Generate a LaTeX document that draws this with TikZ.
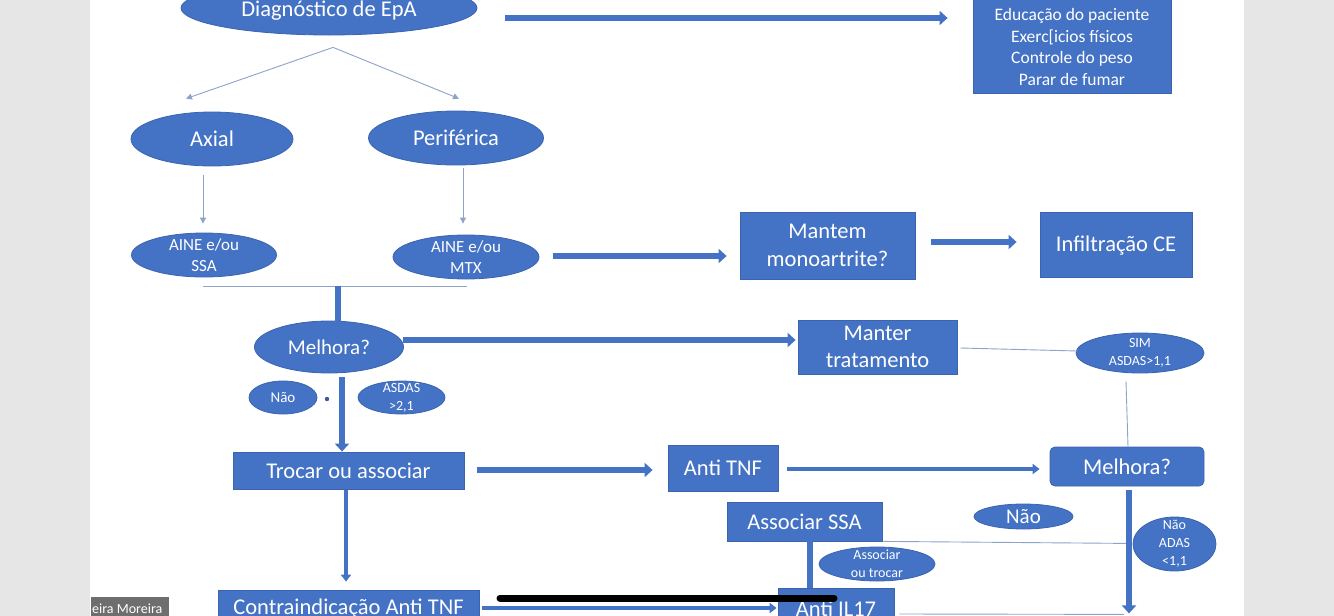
\documentclass[tikz,border=0pt]{standalone}
\usepackage{fontspec}
\setmainfont{Carlito}
\usetikzlibrary{shapes.geometric,arrows.meta,calc}
\definecolor{epblue}{HTML}{4472C4}
\definecolor{epedge}{HTML}{3A64B0}
\definecolor{thinc}{HTML}{8EA3C8}
\definecolor{margin}{HTML}{E6E6E6}
\definecolor{tagc}{HTML}{6E6E6E}
\begin{document}
\begin{tikzpicture}[x=1pt,y=-1pt,
  oval/.style={ellipse, fill=epblue, draw=epedge, line width=0.8pt, inner sep=0pt, text=white, align=center},
  blk/.style={rectangle, fill=epblue, draw=epedge, line width=0.8pt, inner sep=0pt, text=white, align=center},
  lbl/.style={inner sep=0pt, text=white, align=center},
  big/.style={font=\fontsize{22.5}{27.5}\selectfont},
  mid/.style={font=\fontsize{17}{21}\selectfont},
  sml/.style={font=\fontsize{14}{18}\selectfont},
  thinl/.style={draw=thinc, line width=0.9pt},
  thinarr/.style={thinl, -{Triangle[width=6pt,length=6pt]}},
  fatl/.style={draw=epblue, line width=6.5pt},
  fatarr/.style={fatl, -{Triangle[width=14pt,length=8pt]}},
  medarr/.style={draw=epblue, line width=4.5pt, -{Triangle[width=10pt,length=7pt]}},
]
\useasboundingbox (0,0) rectangle (1334,616);
\fill[white] (0,0) rectangle (1334,616);
\fill[margin] (0,0) rectangle (90,616);
\fill[margin] (1244,0) rectangle (1334,616);

% nodes
\node[oval, minimum width=296, minimum height=54] (diag) at (329,8) {};
\node[lbl, big] (diagT) at (329,10.5) {Diagnóstico de EpA};
\node[blk, minimum width=198, minimum height=123] (rbox) at (1072,31.5) {};
\node[lbl, font=\fontsize{17.5}{21.5}\selectfont] (rboxT) at (1072,47) {Educação do paciente\\Exerc[icios físicos\\Controle do peso\\Parar de fumar};

\node[oval, big, minimum width=162, minimum height=54] (axial) at (212,139) {Axial};
\node[oval, big, minimum width=175, minimum height=54] (peri) at (456,138) {Periférica};

\node[oval, minimum width=145, minimum height=44] (ssa1) at (204,255) {};
\node[lbl, mid] (ssa1T) at (ssa1) {AINE e/ou\\SSA};
\node[oval, minimum width=146, minimum height=44] (mtx) at (466,257) {};
\node[lbl, mid] (mtxT) at (mtx) {AINE e/ou\\MTX};

\node[blk, big, minimum width=175, minimum height=67] (mant) at (827.5,245.5) {Mantem\\monoartrite?};
\node[blk, big, minimum width=152, minimum height=65] (infl) at (1116,244.5) {};
\node[lbl, big] (inflT) at (1116,246) {Infiltração CE};

\node[oval, font=\fontsize{21}{25}\selectfont, minimum width=149, minimum height=52] (m1) at (329,347) {Melhora?};
\node[blk, big, minimum width=159, minimum height=54] (mt) at (877.5,347) {Manter\\tratamento};
\node[oval, minimum width=128, minimum height=40] (sim) at (1140,353) {};
\node[lbl, sml] (simT) at (sim) {SIM\\ASDAS>1,1};

\node[oval, font=\fontsize{15}{18}\selectfont, minimum width=68, minimum height=33] (nao1) at (283,397.5) {Não};
\fill[epblue!80!black] (327,399) circle (2.2);
\node[oval, minimum width=87, minimum height=33] (asd) at (401.5,397.5) {};
\node[lbl, sml] (asdT) at (asd) {ASDAS\\>2,1};

\node[blk, big, minimum width=231, minimum height=37] (troc) at (348.5,470.5) {Trocar ou associar};
\node[blk, big, minimum width=110, minimum height=46] (atnf) at (723,468) {Anti TNF};
\node[blk, big, rounded corners=5pt, minimum width=154, minimum height=39] (m2) at (1127,466.5) {Melhora?};

\node[blk, big, minimum width=155, minimum height=39] (ssa) at (804.5,521.5) {Associar SSA};
\node[oval, font=\fontsize{21}{25}\selectfont, minimum width=99, minimum height=25] (nao2) at (1023.5,516.5) {Não};
\node[oval, minimum width=83, minimum height=54] (nadas) at (1174.5,544) {};
\node[lbl, sml] (nadasT) at (nadas) {Não\\ADAS\\<1,1};
\node[oval, minimum width=116, minimum height=34] (atr) at (877,564) {};
\node[lbl, sml] (atrT) at (atr) {Associar\\ou trocar};

\node[blk, big, minimum width=261, minimum height=38] (contra) at (348.5,609) {Contraindicação Anti TNF};
\node[blk, big, minimum width=116, minimum height=42] (il17) at (836,609) {Anti IL17};

% connectors
\draw[fatarr] ($(diag.east)+(28,10)$) -- ($(rbox.west)+(-25,-13.5)$);
\coordinate (apex) at ($(diag.south)+(4,12)$);
\draw[thinarr] (apex) -- ($(axial.north)+(-26,-13)$);
\draw[thinarr] (apex) -- ($(peri.north)+(3,-12)$);
\draw[thinarr] ($(axial.south)+(-9,9)$) -- ($(ssa1.north)+(-1,-9)$);
\draw[thinarr] ($(peri.south)+(7,3)$) -- ($(mtx.north)+(-3,-11)$);
\coordinate (hl) at ($(ssa1.south)+(-1,9)$);
\coordinate (hr) at ($(mtx.south)+(1,7)$);
\draw[thinl] (hl) -- (hr);
\draw[fatl] ($(m1.north)+(9,-35)$) -- ($(m1.north)+(9,2)$);
\draw[fatarr] ($(mtx.east)+(14,-1)$) -- ($(mant.west)+(-13,10.5)$);
\draw[fatarr] ($(mant.east)+(16,-3.5)$) -- ($(infl.west)+(-23,-2.5)$);
\draw[fatarr] ($(m1.east)+(-1,-7)$) -- ($(mt.west)+(-2,-7)$);
\draw[thinl] ($(mt.east)+(3,1)$) -- ($(sim.west)+(2,-2)$);
\draw[thinl] ($(sim.south)+(-14,8)$) -- ($(m2.north)+(1,0)$);
\draw[fatarr] ($(m1.south)+(13,4)$) -- ($(troc.north)+(-6.5,0)$);
\draw[fatarr] ($(troc.east)+(13,-0.5)$) -- ($(atnf.west)+(-15,2)$);
\draw[medarr] ($(atnf.east)+(9,1)$) -- ($(m2.west)+(-10,2.5)$);
\draw[medarr] ($(troc.south)+(-2.5,1)$) -- ($(contra.north)+(-2.5,-8)$);
\draw[medarr] ($(contra.east)+(3,-1)$) -- ($(il17.west)+(-1,-1)$);
\draw[fatl] ($(ssa.south)+(5.5,0)$) -- ($(il17.north)+(-26,0)$);
\draw[thinl] ($(ssa.south east)+(1,0)$) -- ($(m2.south)+(-1,57)$);
\draw[fatarr] ($(m2.south)+(2,4)$) -- ($(m2.south)+(2,127)$);
\draw[thinl] ($(il17.east)+(5,5)$) -- ($(m2.south)+(-3,128)$);

% overlays
\draw[line width=7pt, line cap=round, black] (500,598) -- (834,598);
\fill[tagc] (91,597) rectangle (169,620);
\node[anchor=west, inner sep=0pt, text=white, font=\fontsize{14}{16}\selectfont] (tag) at (92,609) {eira Moreira};
\end{tikzpicture}
\end{document}
